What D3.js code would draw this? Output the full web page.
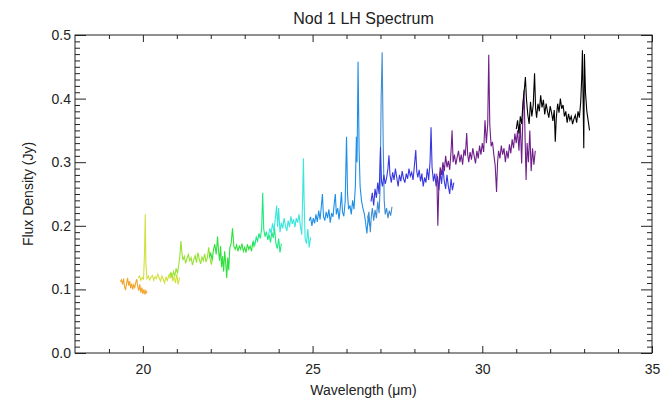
<!DOCTYPE html>
<html>
<head>
<meta charset="utf-8">
<script src="https://cdn.jsdelivr.net/npm/d3@7"></script>
<style>
  body { margin: 0; background: #fff; }
  svg text { font-family: "Liberation Sans", "DejaVu Sans", sans-serif; fill: #222; }
</style>
</head>
<body>
<svg id="chart" width="665" height="405"></svg>
<script>
// ---------- data (wavelength um, flux Jy), one array per spectral order ----------
const seg1 = [[19.33,0.112],[19.37,0.115],[19.40,0.108],[19.43,0.117],[19.46,0.104],[19.49,0.099],[19.52,0.110],[19.55,0.118],[19.58,0.106],[19.61,0.113],[19.64,0.102],[19.67,0.109],[19.70,0.100],[19.73,0.107],[19.76,0.103],[19.79,0.111],[19.82,0.116],[19.85,0.104],[19.88,0.098],[19.91,0.108],[19.94,0.095],[19.97,0.103],[20.00,0.093],[20.03,0.100],[20.06,0.092],[20.09,0.098],[20.12,0.094]];
const seg2 = [[19.86,0.118],[19.90,0.121],[19.94,0.114],[19.98,0.119],[20.02,0.116],[20.05,0.160],[20.07,0.218],[20.09,0.140],[20.12,0.117],[20.16,0.121],[20.20,0.115],[20.24,0.119],[20.28,0.122],[20.32,0.114],[20.36,0.120],[20.40,0.117],[20.44,0.124],[20.48,0.118],[20.52,0.113],[20.56,0.121],[20.60,0.116],[20.64,0.110],[20.68,0.119],[20.72,0.114],[20.76,0.122],[20.80,0.118],[20.84,0.126],[20.88,0.113],[20.92,0.120],[20.96,0.110],[21.00,0.124],[21.04,0.108],[21.08,0.119]];
const seg3 = [[20.78,0.122],[20.82,0.126],[20.86,0.118],[20.90,0.128],[20.94,0.121],[20.98,0.133],[21.02,0.125],[21.06,0.140],[21.09,0.152],[21.12,0.176],[21.15,0.158],[21.18,0.146],[21.22,0.152],[21.26,0.141],[21.30,0.149],[21.34,0.155],[21.38,0.145],[21.42,0.150],[21.46,0.138],[21.50,0.147],[21.54,0.153],[21.58,0.142],[21.62,0.158],[21.66,0.148],[21.70,0.140],[21.74,0.151],[21.78,0.145],[21.82,0.156],[21.86,0.143],[21.90,0.150],[21.94,0.166],[21.98,0.148],[22.02,0.139],[22.06,0.152]];
const seg4 = [[21.96,0.150],[22.00,0.158],[22.04,0.146],[22.08,0.162],[22.12,0.171],[22.16,0.155],[22.20,0.183],[22.23,0.160],[22.26,0.145],[22.29,0.168],[22.32,0.135],[22.35,0.152],[22.38,0.128],[22.41,0.160],[22.44,0.142],[22.47,0.118],[22.50,0.150],[22.53,0.130],[22.56,0.165],[22.60,0.172],[22.64,0.196],[22.68,0.168],[22.72,0.163],[22.76,0.170],[22.80,0.160],[22.84,0.168],[22.88,0.163],[22.92,0.172],[22.96,0.160],[23.00,0.166],[23.04,0.158],[23.08,0.171],[23.12,0.163],[23.16,0.168],[23.20,0.160],[23.24,0.175],[23.28,0.166]];
const seg5 = [[23.22,0.168],[23.26,0.175],[23.30,0.170],[23.34,0.182],[23.38,0.176],[23.42,0.188],[23.46,0.180],[23.50,0.196],[23.53,0.252],[23.56,0.195],[23.60,0.183],[23.64,0.191],[23.68,0.178],[23.72,0.186],[23.76,0.174],[23.80,0.190],[23.84,0.181],[23.88,0.196],[23.92,0.172],[23.96,0.164],[24.00,0.180],[24.04,0.158],[24.08,0.172]];
const seg6 = [[23.70,0.185],[23.74,0.196],[23.78,0.188],[23.82,0.204],[23.86,0.192],[23.90,0.210],[23.94,0.232],[23.97,0.198],[24.00,0.228],[24.04,0.190],[24.08,0.205],[24.12,0.196],[24.16,0.212],[24.20,0.200],[24.24,0.192],[24.28,0.208],[24.32,0.198],[24.36,0.215],[24.40,0.203],[24.44,0.210],[24.48,0.198],[24.52,0.212],[24.56,0.205],[24.60,0.218],[24.64,0.200],[24.68,0.186],[24.71,0.250],[24.73,0.306],[24.75,0.240],[24.78,0.180],[24.82,0.172],[24.86,0.195],[24.90,0.166],[24.94,0.182]];
const seg7 = [[24.90,0.208],[24.94,0.214],[24.98,0.200],[25.02,0.212],[25.06,0.204],[25.10,0.218],[25.14,0.206],[25.18,0.224],[25.22,0.210],[25.26,0.232],[25.29,0.250],[25.32,0.215],[25.36,0.208],[25.40,0.222],[25.44,0.212],[25.48,0.226],[25.52,0.205],[25.56,0.220],[25.60,0.214],[25.64,0.236],[25.67,0.250],[25.70,0.218],[25.74,0.228],[25.78,0.210],[25.82,0.232],[25.85,0.253],[25.88,0.222],[25.92,0.215],[25.96,0.238],[26.00,0.340],[26.03,0.250],[26.06,0.226],[26.10,0.232],[26.14,0.218],[26.18,0.240],[26.22,0.226],[26.26,0.262],[26.29,0.340],[26.31,0.300],[26.34,0.458],[26.37,0.320],[26.40,0.262],[26.44,0.240],[26.48,0.228],[26.52,0.220],[26.56,0.206],[26.60,0.188],[26.64,0.215],[26.68,0.200]];
const seg8 = [[26.62,0.212],[26.66,0.222],[26.70,0.190],[26.73,0.215],[26.76,0.228],[26.80,0.208],[26.84,0.225],[26.88,0.212],[26.92,0.238],[26.96,0.220],[26.99,0.260],[27.02,0.400],[27.05,0.473],[27.08,0.330],[27.11,0.240],[27.14,0.218],[27.18,0.228],[27.22,0.212],[27.26,0.224],[27.30,0.216],[27.34,0.230]];
const seg9 = [[26.72,0.238],[26.76,0.252],[26.80,0.232],[26.84,0.258],[26.88,0.244],[26.92,0.268],[26.96,0.250],[27.00,0.324],[27.03,0.270],[27.06,0.262],[27.10,0.280],[27.14,0.266],[27.18,0.275],[27.22,0.290],[27.25,0.311],[27.28,0.280],[27.32,0.268],[27.36,0.284],[27.40,0.272],[27.44,0.290],[27.48,0.276],[27.52,0.262],[27.56,0.280],[27.60,0.270],[27.64,0.286],[27.68,0.274],[27.72,0.268],[27.76,0.282],[27.80,0.274],[27.84,0.290],[27.88,0.278],[27.92,0.284],[27.96,0.272],[28.00,0.295],[28.04,0.319],[28.07,0.285],[28.10,0.276],[28.14,0.288],[28.18,0.270],[28.22,0.282],[28.26,0.262],[28.30,0.276],[28.34,0.268],[28.38,0.290],[28.42,0.272],[28.46,0.300],[28.49,0.355],[28.52,0.292],[28.56,0.270],[28.60,0.282],[28.64,0.262],[28.68,0.278],[28.72,0.256],[28.76,0.285],[28.80,0.266],[28.84,0.292],[28.88,0.270],[28.92,0.258],[28.96,0.280],[29.00,0.262],[29.04,0.250],[29.08,0.274],[29.12,0.256],[29.16,0.268]];
const seg10 = [[28.66,0.282],[28.69,0.200],[28.72,0.262],[28.76,0.292],[28.80,0.280],[28.84,0.300],[28.88,0.286],[28.92,0.310],[28.96,0.292],[29.00,0.302],[29.04,0.288],[29.08,0.318],[29.11,0.350],[29.14,0.300],[29.18,0.312],[29.22,0.296],[29.26,0.308],[29.30,0.318],[29.34,0.300],[29.38,0.312],[29.42,0.296],[29.46,0.320],[29.50,0.310],[29.54,0.346],[29.57,0.312],[29.60,0.300],[29.64,0.316],[29.68,0.304],[29.72,0.322],[29.76,0.310],[29.80,0.298],[29.84,0.318],[29.88,0.306],[29.92,0.326],[29.96,0.312],[30.00,0.330],[30.04,0.316],[30.08,0.366],[30.12,0.330],[30.16,0.360],[30.19,0.469],[30.22,0.360],[30.26,0.325],[30.30,0.332],[30.34,0.312],[30.38,0.295],[30.42,0.253],[30.45,0.300],[30.48,0.318],[30.52,0.306],[30.56,0.326],[30.60,0.312],[30.64,0.322],[30.68,0.300],[30.72,0.318],[30.76,0.306],[30.80,0.328],[30.84,0.314],[30.88,0.336],[30.92,0.322],[30.96,0.345],[31.00,0.330],[31.04,0.350],[31.08,0.318],[31.12,0.360],[31.16,0.298],[31.20,0.380],[31.23,0.413],[31.26,0.340],[31.29,0.272],[31.32,0.330],[31.36,0.300],[31.40,0.350],[31.44,0.286],[31.48,0.322],[31.52,0.296],[31.56,0.318]];
const seg11 = [[31.00,0.352],[31.04,0.366],[31.08,0.345],[31.12,0.372],[31.16,0.360],[31.20,0.395],[31.24,0.415],[31.27,0.434],[31.30,0.400],[31.34,0.375],[31.38,0.360],[31.42,0.395],[31.46,0.372],[31.50,0.390],[31.54,0.440],[31.57,0.385],[31.60,0.370],[31.64,0.392],[31.68,0.380],[31.72,0.405],[31.76,0.386],[31.80,0.398],[31.84,0.375],[31.88,0.392],[31.92,0.380],[31.96,0.370],[32.00,0.388],[32.04,0.378],[32.08,0.365],[32.12,0.382],[32.15,0.332],[32.18,0.370],[32.22,0.392],[32.26,0.378],[32.30,0.400],[32.34,0.384],[32.38,0.390],[32.42,0.372],[32.46,0.380],[32.50,0.362],[32.54,0.376],[32.58,0.366],[32.62,0.372],[32.66,0.360],[32.70,0.368],[32.74,0.374],[32.78,0.362],[32.82,0.380],[32.86,0.370],[32.90,0.395],[32.93,0.434],[32.95,0.476],[32.97,0.400],[32.99,0.322],[33.01,0.470],[33.04,0.410],[33.08,0.380],[33.12,0.365],[33.16,0.350]];

const segments = [seg1, seg2, seg3, seg4, seg5, seg6, seg7, seg8, seg9, seg10, seg11];
const segColors = ['#f2a42a', '#d2e03c', '#96e232', '#2fe03c', '#1ee87e', '#38e6dc', '#1f8fe6', '#3f8ed2', '#3838e2', '#6e2088', '#000000'];

const xTicks = [20, 25, 30, 35];
const yTicks = [0.0, 0.1, 0.2, 0.3, 0.4, 0.5];

// ---------- layout ----------
const chart = {
  margin: {top: 35, right: 13, bottom: 52, left: 75},
  xDomain: [18, 35],
  yDomain: [0, 0.5]
};

function translate(x, y) {
  return `translate(${x}, ${y})`;
}

const svg = d3.select('#chart');
const W = +svg.attr('width');
const H = +svg.attr('height');
const m = chart.margin;
const width = W - m.left - m.right;
const height = H - m.top - m.bottom;

const x = d3.scaleLinear().domain(chart.xDomain).range([0, width]);
const y = d3.scaleLinear().domain(chart.yDomain).range([height, 0]);

const g = svg.append('g').attr('transform', translate(m.left, m.top));

// spectrum lines
const line = d3.line().x(d => x(d[0])).y(d => y(d[1]));
g.selectAll('.order')
  .data(segments)
  .enter()
  .append('path')
    .attr('class', 'order')
    .attr('d', line)
    .attr('fill', 'none')
    .attr('stroke', (d, i) => segColors[i])
    .attr('stroke-width', 1.1);

// IDL style axes: ticks pointing inward on all four sides
const xMinor = d3.range(19, 35, 1).filter(v => xTicks.indexOf(v) < 0);
const yMinor = d3.range(1, 50).map(v => v / 100).filter(v => Math.round(v * 100) % 10 !== 0);

function styleAxis(sel) {
  sel.select('.domain').remove();
  sel.selectAll('line').attr('stroke', '#222').attr('stroke-width', 1);
  sel.selectAll('text').style('font-size', '14px').attr('fill', '#222');
}

// bottom
g.append('g').attr('transform', translate(0, height))
  .call(d3.axisBottom(x).tickValues(xTicks).tickSize(-7).tickPadding(11).tickFormat(d3.format('d')))
  .call(styleAxis);
g.append('g').attr('transform', translate(0, height))
  .call(d3.axisBottom(x).tickValues(xMinor).tickSize(-4).tickFormat(''))
  .call(styleAxis);
// top
g.append('g')
  .call(d3.axisTop(x).tickValues(xTicks).tickSize(-7).tickFormat(''))
  .call(styleAxis);
g.append('g')
  .call(d3.axisTop(x).tickValues(xMinor).tickSize(-4).tickFormat(''))
  .call(styleAxis);
// left
g.append('g')
  .call(d3.axisLeft(y).tickValues(yTicks).tickSize(-11).tickPadding(4).tickFormat(d3.format('.1f')))
  .call(styleAxis);
g.append('g')
  .call(d3.axisLeft(y).tickValues(yMinor).tickSize(-5).tickFormat(''))
  .call(styleAxis);
// right
g.append('g').attr('transform', translate(width, 0))
  .call(d3.axisRight(y).tickValues(yTicks).tickSize(-11).tickFormat(''))
  .call(styleAxis);
g.append('g').attr('transform', translate(width, 0))
  .call(d3.axisRight(y).tickValues(yMinor).tickSize(-5).tickFormat(''))
  .call(styleAxis);

// frame
g.append('rect')
  .attr('width', width)
  .attr('height', height)
  .attr('fill', 'none')
  .attr('stroke', '#222')
  .attr('stroke-width', 1);

// titles
svg.append('text')
  .attr('x', m.left + width / 2)
  .attr('y', 24)
  .attr('text-anchor', 'middle')
  .style('font-size', '16px')
  .text('Nod 1 LH Spectrum');

svg.append('text')
  .attr('x', m.left + width / 2)
  .attr('y', 395)
  .attr('text-anchor', 'middle')
  .style('font-size', '14px')
  .text('Wavelength (μm)');

svg.append('text')
  .attr('transform', translate(33, m.top + height / 2) + ' rotate(-90)')
  .attr('text-anchor', 'middle')
  .style('font-size', '14px')
  .text('Flux Density (Jy)');
</script>
</body>
</html>
